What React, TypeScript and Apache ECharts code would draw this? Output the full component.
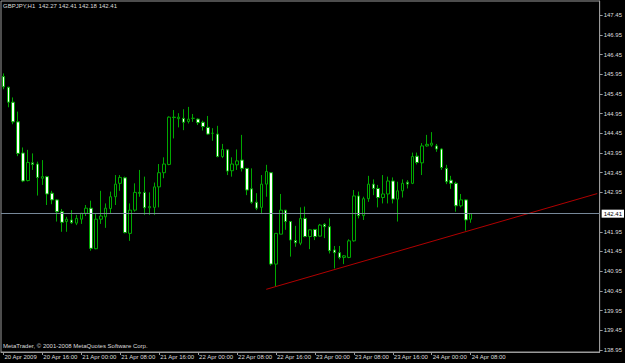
import React, { useEffect, useRef } from "react";
import * as echarts from "echarts";

// Hourly GBPJPY bars, 20 Apr 2009 08:00 .. 24 Apr 2009 08:00
const opens = [
  145.89, 145.62, 145.24, 144.74, 143.95, 143.25, 143.70, 143.67, 143.31, 143.35,
  142.93, 142.76, 142.46, 142.21, 142.25, 142.17, 142.27, 142.42, 142.55, 141.52,
  142.27, 142.33, 142.54, 142.84, 143.18, 143.32, 141.91, 142.50, 142.95, 142.95,
  142.56, 142.57, 143.09, 143.45, 143.66, 144.86, 144.82, 144.83, 144.75, 144.83,
  144.81, 144.73, 144.60, 144.45, 144.43, 143.86, 144.03, 143.50, 143.65, 143.77,
  143.56, 143.04, 142.70, 142.57, 143.16, 143.45, 141.13, 141.89, 142.50, 142.21,
  141.73, 141.66, 142.29, 141.83, 142.01, 141.84, 142.14, 142.08, 141.49, 141.42,
  141.30, 141.30, 141.72, 142.86, 142.36, 142.79, 143.16, 143.05, 142.82, 142.91,
  143.24, 142.78, 142.99, 143.21, 143.18, 143.87, 143.70, 144.13, 144.15, 144.13,
  144.05, 143.56, 143.26, 143.18, 142.61, 142.76, 142.27,
];
const closes = [
  145.63, 145.24, 144.74, 143.94, 143.24, 143.71, 143.66, 143.33, 143.35, 142.91,
  142.76, 142.46, 142.19, 142.27, 142.18, 142.29, 142.42, 142.55, 141.53, 142.27,
  142.35, 142.55, 142.84, 143.16, 143.33, 141.93, 142.50, 142.95, 142.93, 142.56,
  142.59, 143.09, 143.45, 143.67, 144.86, 144.85, 144.86, 144.73, 144.81, 144.83,
  144.72, 144.62, 144.43, 144.45, 143.86, 144.04, 143.49, 143.67, 143.75, 143.56,
  143.01, 142.70, 142.55, 143.16, 143.48, 141.13, 141.91, 142.50, 142.21, 141.74,
  141.67, 142.29, 141.83, 142.00, 141.83, 142.12, 142.08, 141.47, 141.42, 141.30,
  141.34, 141.72, 142.86, 142.36, 142.79, 143.16, 143.05, 142.82, 142.91, 143.24,
  142.78, 142.99, 143.18, 143.16, 143.86, 143.71, 144.13, 144.17, 144.20, 144.05,
  143.58, 143.22, 143.18, 142.61, 142.76, 142.25, 142.41,
];
const lows = [
  145.57, 145.11, 144.68, 143.87, 143.21, 143.23, 143.52, 142.87, 143.14, 142.63,
  142.65, 142.21, 141.95, 141.95, 142.15, 142.12, 142.15, 142.35, 141.47, 141.51,
  142.15, 142.05, 142.40, 142.63, 142.99, 141.91, 141.72, 142.46, 142.84, 142.38,
  142.38, 142.38, 142.57, 143.31, 143.64, 144.32, 144.60, 144.53, 144.70, 144.74,
  144.66, 144.52, 144.41, 144.26, 143.84, 143.82, 143.39, 143.35, 143.52, 143.48,
  142.88, 142.66, 142.50, 142.40, 142.84, 141.09, 140.56, 141.89, 142.00, 141.32,
  141.57, 141.61, 141.81, 141.51, 141.74, 141.83, 141.79, 141.40, 141.02, 141.25,
  141.13, 141.28, 141.70, 142.29, 142.25, 142.71, 142.88, 142.57, 142.67, 142.67,
  142.67, 142.21, 142.82, 143.05, 143.16, 143.66, 143.39, 144.11, 144.11, 143.98,
  143.52, 143.16, 143.04, 142.46, 142.57, 141.98, 142.18,
];
const highs = [
  145.97, 145.63, 145.36, 145.00, 144.09, 144.03, 143.94, 143.73, 143.77, 143.37,
  142.99, 142.78, 142.53, 142.33, 142.50, 142.38, 142.43, 142.63, 142.74, 142.40,
  142.99, 142.67, 142.97, 143.39, 143.39, 143.35, 142.67, 143.18, 143.52, 143.35,
  142.95, 143.20, 143.67, 143.84, 144.88, 145.04, 144.96, 145.06, 145.12, 144.94,
  144.83, 144.77, 144.89, 144.58, 144.64, 144.18, 144.03, 143.84, 144.04, 144.41,
  143.56, 143.56, 142.93, 143.39, 143.65, 143.45, 141.91, 142.91, 142.50, 142.21,
  142.10, 142.57, 142.59, 142.01, 142.01, 142.15, 142.17, 142.29, 141.59, 141.59,
  141.36, 141.76, 143.01, 142.97, 142.84, 143.37, 143.28, 143.14, 143.39, 143.35,
  143.33, 143.22, 143.28, 143.26, 143.96, 143.96, 144.20, 144.41, 144.48, 144.18,
  144.07, 143.65, 143.37, 143.22, 142.91, 142.77, 142.41,
];

// time-axis labels, one every 8 bars starting at bar 0
const tickLabels = [
  "20 Apr 2009", "20 Apr 16:00", "21 Apr 00:00", "21 Apr 08:00", "21 Apr 16:00",
  "22 Apr 00:00", "22 Apr 08:00", "22 Apr 16:00", "23 Apr 00:00", "23 Apr 08:00",
  "23 Apr 16:00", "24 Apr 00:00", "24 Apr 08:00",
];
const barsPerLabel = 8;
const totalSlots = 123; // visible bar slots including empty space on the right

// price-axis labels (142.45 hidden behind the bid box)
const priceTicks = [
  138.95, 139.45, 139.95, 140.45, 140.95, 141.45, 141.95, 142.95, 143.45,
  143.95, 144.45, 144.95, 145.45, 145.95, 146.45, 146.95, 147.45,
];
const priceMin = 138.899;
const priceMax = 147.808;

const bidPrice = 142.41;

// support trendline (bar index, price)
const trendIdx = [54, 122];
const trendPrice = [140.49, 142.92];

const symbolName = "GBPJPY,H1";
const copyright = "MetaTrader, \u00a9 2001-2008 MetaQuotes Software Corp.";

const FONT = "Liberation Sans, Arial, sans-serif";
const TEXT = "#dcdcdc";
const FRAME = "#9a9a9a";
const GREEN = "#00a800";

export default function App() {
  const ref = useRef<HTMLDivElement>(null);

  useEffect(() => {
    if (!ref.current) return;
    const chart = echarts.init(ref.current, undefined, { renderer: "svg" });
    const last = opens.length - 1;
    const header = `${symbolName}  ${opens[last].toFixed(2)} ${highs[last].toFixed(2)} ${lows[last].toFixed(2)} ${closes[last].toFixed(2)}`;
    const categories = Array.from({ length: totalSlots }, (_, i) => String(i));
    const candles = opens.map((o, i) => [o, closes[i], lows[i], highs[i]]);
    const isLabelIdx = (i: number) =>
      i % barsPerLabel === 0 && i / barsPerLabel < tickLabels.length;

    chart.setOption({
      animation: false,
      backgroundColor: "#000000",
      textStyle: { fontFamily: FONT },
      title: {
        text: header,
        left: 3,
        top: 3,
        padding: 0,
        textStyle: { fontSize: 6, color: TEXT, fontWeight: "normal", fontFamily: FONT },
      },
      grid: {
        left: 1,
        top: 1,
        width: 601,
        height: 351,
        show: true,
        borderColor: FRAME,
        borderWidth: 1,
        backgroundColor: "transparent",
      },
      xAxis: {
        type: "category",
        data: categories,
        boundaryGap: true,
        axisLine: { show: true, lineStyle: { color: FRAME } },
        axisTick: {
          show: true,
          alignWithLabel: true,
          length: 3,
          interval: (i: number) => isLabelIdx(i),
          lineStyle: { color: FRAME },
        },
        axisLabel: {
          interval: 0,
          align: "left",
          margin: 2,
          fontSize: 6,
          color: TEXT,
          fontFamily: FONT,
          padding: [0, 0, 0, 1],
          formatter: (_v: string, i: number) =>
            isLabelIdx(i) ? tickLabels[i / barsPerLabel] : "",
        },
        splitLine: { show: false },
      },
      yAxis: {
        type: "value",
        position: "right",
        min: priceMin,
        max: priceMax,
        axisLine: { show: true, lineStyle: { color: FRAME } },
        axisTick: {
          show: true,
          length: 3,
          customValues: priceTicks,
          lineStyle: { color: FRAME },
        },
        axisLabel: {
          customValues: priceTicks,
          margin: 4,
          fontSize: 6,
          color: TEXT,
          fontFamily: FONT,
          formatter: (v: number) => v.toFixed(2),
        },
        splitLine: { show: false },
      },
      graphic: [
        {
          type: "text",
          left: 3,
          top: 343,
          style: { text: copyright, fontSize: 6, fill: TEXT, fontFamily: FONT },
        },
      ],
      series: [
        {
          type: "candlestick",
          data: candles,
          barWidth: 3,
          itemStyle: {
            color: "#000000",
            color0: "#ffffff",
            borderColor: GREEN,
            borderColor0: GREEN,
            borderWidth: 1,
          },
          markLine: {
            silent: true,
            symbol: ["none", "none"],
            lineStyle: { color: "#778899", type: "solid", width: 1 },
            label: {
              show: true,
              position: "end",
              distance: 2,
              formatter: bidPrice.toFixed(2),
              backgroundColor: "#ffffff",
              color: "#000000",
              fontSize: 6,
              fontFamily: FONT,
              padding: [1, 2, 1, 2],
            },
            data: [{ yAxis: bidPrice }],
          },
          z: 2,
        },
        {
          type: "line",
          data: trendIdx.map((x, i) => [x, trendPrice[i]]),
          symbol: "none",
          lineStyle: { color: "#b00000", width: 1 },
          silent: true,
          z: 3,
        },
      ],
    });
    return () => chart.dispose();
  }, []);

  return (
    <div
      ref={ref}
      style={{
        position: "fixed",
        left: 0,
        top: 0,
        width: 625,
        height: 363,
        background: "#000",
      }}
    />
  );
}
